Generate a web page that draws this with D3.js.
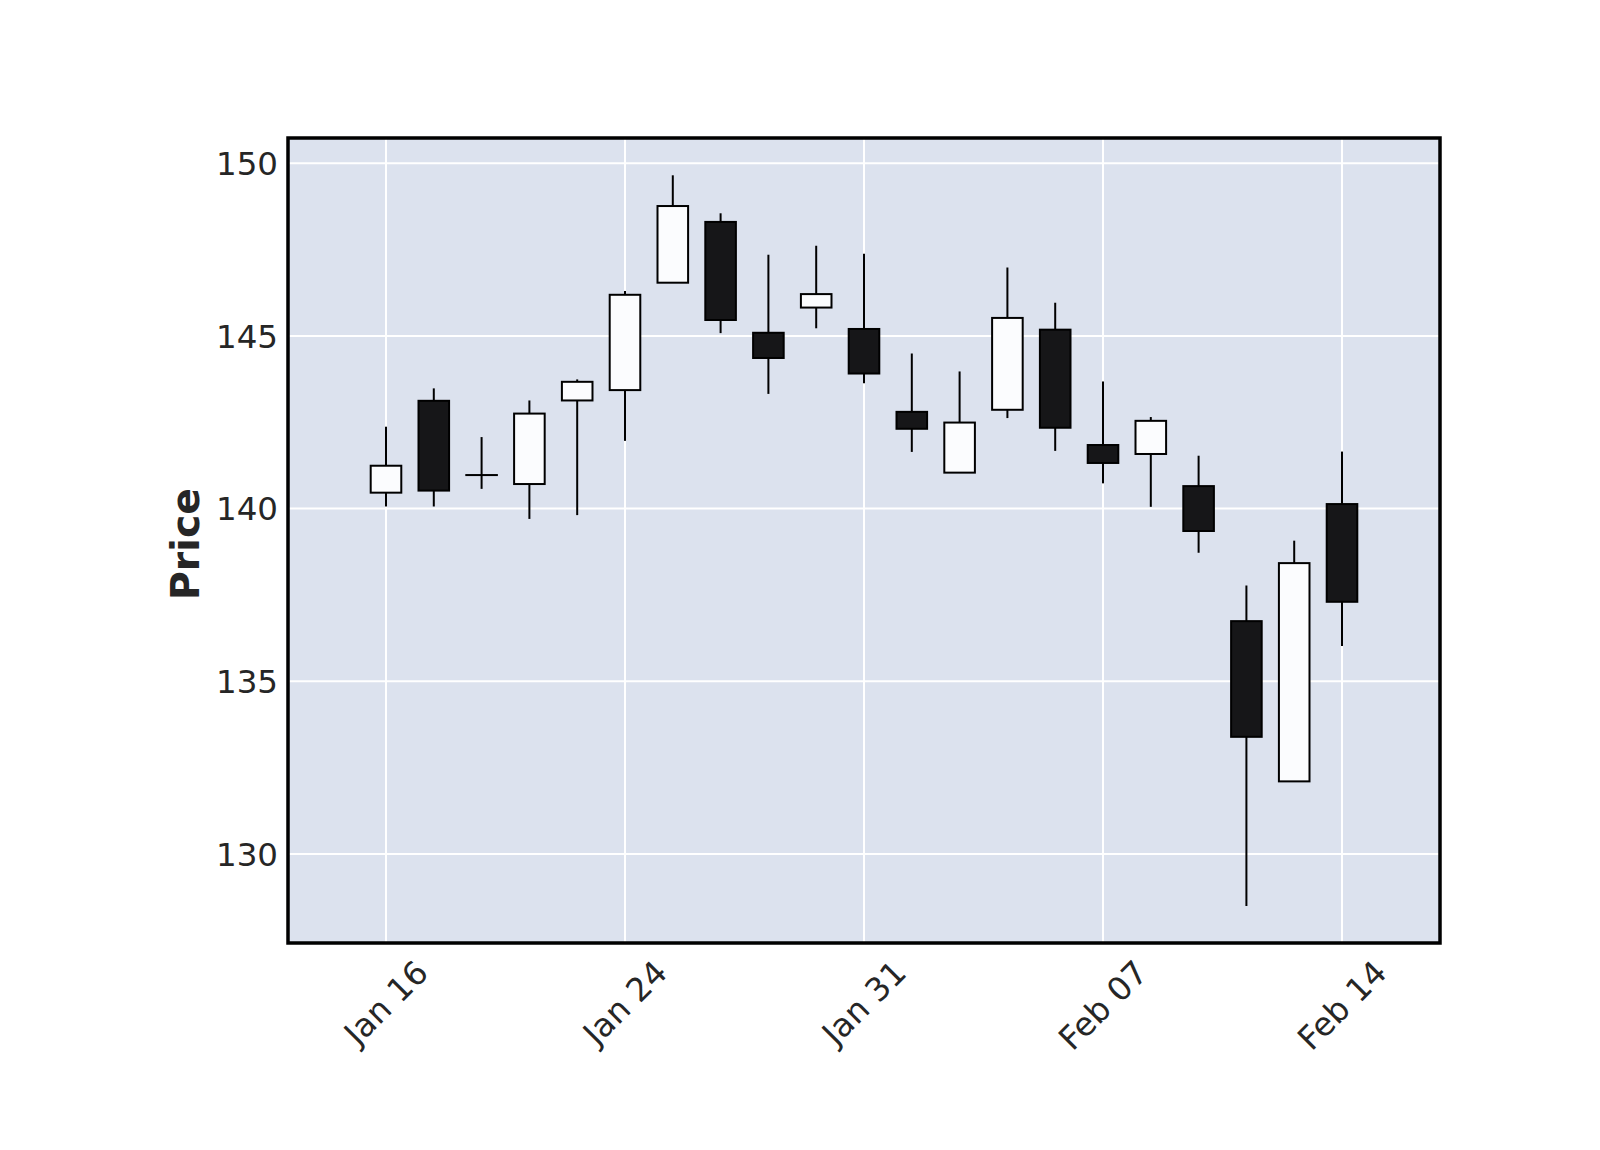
<!DOCTYPE html>
<html>
<head>
<meta charset="utf-8">
<script src="https://cdn.jsdelivr.net/npm/d3@7"></script>
<style>
  html, body { margin: 0; padding: 0; background: #ffffff; }
  svg { display: block; }
</style>
</head>
<body>
<svg id="chart" width="1600" height="1150"></svg>
<script>
// ---- data ----
const dates = ["2020-01-16","2020-01-17","2020-01-21","2020-01-22","2020-01-23","2020-01-24",
  "2020-01-27","2020-01-28","2020-01-29","2020-01-30","2020-01-31","2020-02-03","2020-02-04",
  "2020-02-05","2020-02-06","2020-02-07","2020-02-10","2020-02-11","2020-02-12","2020-02-13","2020-02-14"];
const opens  = [140.46,143.12,140.97,140.71,143.13,143.43,146.54,148.30,145.09,145.82,145.20,142.80,141.04,142.86,145.18,141.84,141.58,140.65,136.74,132.10,140.13];
const highs  = [142.37,143.48,142.07,143.13,143.74,146.30,149.65,148.55,147.35,147.61,147.38,144.49,143.97,146.98,145.96,143.68,142.65,141.53,137.77,139.07,141.65];
const lows   = [140.06,140.06,140.57,139.70,139.81,141.96,146.54,145.08,143.32,145.22,143.63,141.64,141.04,142.62,141.67,140.73,140.05,138.72,128.49,132.10,136.02];
const closes = [141.24,140.52,140.97,142.75,143.67,146.19,148.76,145.46,144.36,146.21,143.91,142.31,142.49,145.52,142.34,141.32,142.54,139.35,133.39,138.42,137.30];
const yTicks = [130, 135, 140, 145, 150];
const xTickIdx = [0, 5, 10, 15, 20];
const yLabel = "Price";

// ---- layout ----
const W = 1600, H = 1150;
const L = 288, R = 1440, T = 138, B = 943;
const svg = d3.select("#chart");

const x = d3.scaleLinear().domain([-2.05, 22.05]).range([L, R]);
const y = d3.scaleLinear().domain([127.42, 150.73]).range([B, T]);
const step = x(1) - x(0);
const bodyW = step * 0.64;

const parse = d3.timeParse("%Y-%m-%d");
const fmt = d3.timeFormat("%b %d");
const data = dates.map((d, i) => ({i, date: parse(d), o: opens[i], h: highs[i], l: lows[i], c: closes[i]}));

// background
svg.append("rect").attr("x", L).attr("y", T).attr("width", R - L).attr("height", B - T)
  .attr("fill", "#DCE2EE");

// grid
const grid = svg.append("g");
grid.selectAll("line.gy").data(yTicks).join("line")
  .attr("x1", L).attr("x2", R).attr("y1", d => y(d)).attr("y2", d => y(d))
  .attr("stroke", "#ffffff").attr("stroke-width", 2);
grid.selectAll("line.gx").data(xTickIdx).join("line")
  .attr("x1", d => x(d)).attr("x2", d => x(d)).attr("y1", T).attr("y2", B)
  .attr("stroke", "#ffffff").attr("stroke-width", 2);

// candles
const cg = svg.append("g");
cg.selectAll("line.wick").data(data).join("line")
  .attr("x1", d => x(d.i)).attr("x2", d => x(d.i))
  .attr("y1", d => y(d.h)).attr("y2", d => y(d.l))
  .attr("stroke", "#000000").attr("stroke-width", 2);
cg.selectAll("rect.body").data(data).join("rect")
  .attr("x", d => x(d.i) - bodyW / 2)
  .attr("width", bodyW)
  .attr("y", d => y(Math.max(d.o, d.c)))
  .attr("height", d => Math.max(0.01, Math.abs(y(d.o) - y(d.c))))
  .attr("fill", d => d.c >= d.o ? "#FBFCFE" : "#161618")
  .attr("stroke", "#000000").attr("stroke-width", 2);

// frame
svg.append("rect").attr("x", L).attr("y", T).attr("width", R - L).attr("height", B - T)
  .attr("fill", "none").attr("stroke", "#000000").attr("stroke-width", 3.5);

// y tick labels
const fs = 32.5;
svg.append("g").selectAll("text").data(yTicks).join("text")
  .attr("x", 278).attr("y", d => y(d)).attr("dy", "0.36em")
  .attr("text-anchor", "end")
  .attr("font-family", "DejaVu Sans").attr("font-size", fs).attr("fill", "#262626")
  .text(d => d);

// x tick labels (rotated 45)
const xl = svg.append("g");
xTickIdx.forEach(idx => {
  const t = xl.append("text")
    .attr("text-anchor", "middle").attr("dy", "0.35em")
    .attr("font-family", "DejaVu Sans").attr("font-size", fs).attr("fill", "#262626")
    .text(fmt(data[idx].date));
  const w = t.node().getComputedTextLength();
  const cx = x(idx), cy = 954 + (w + fs * 1.1) / (2 * Math.SQRT2);
  t.attr("transform", `translate(${cx},${cy}) rotate(-45)`);
});

// y label
svg.append("text")
  .attr("transform", `translate(185,544) rotate(-90)`)
  .attr("text-anchor", "middle").attr("dy", "0.35em")
  .attr("font-family", "DejaVu Sans").attr("font-weight", "bold").attr("font-size", 39.5)
  .attr("fill", "#262626")
  .text(yLabel);
</script>
</body>
</html>
